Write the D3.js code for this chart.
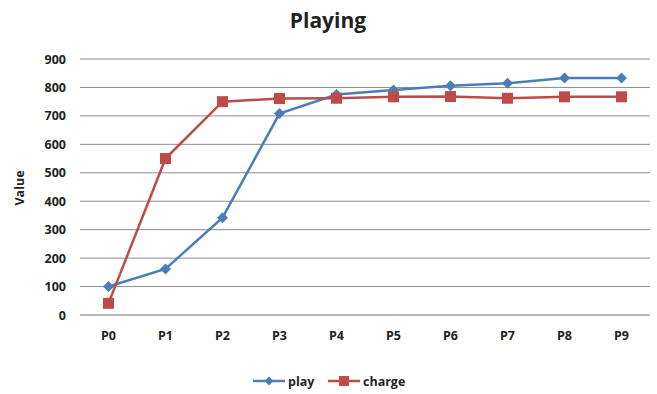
<!DOCTYPE html>
<html><head><meta charset="utf-8">
<script src="https://cdn.jsdelivr.net/npm/d3@7"></script>
<style>body{margin:0;background:#fff}svg{display:block}text{font-family:"Open Sans",sans-serif;font-weight:bold;fill:#222}</style>
</head><body>
<svg id="c" width="657" height="394"></svg>
<script>
const categories = ["P0","P1","P2","P3","P4","P5","P6","P7","P8","P9"];
const play = [100,162,342,708,775,791,806,815,833,833];
const charge = [41,550,750,761,762,767,768,762,767,767];
const yTicks = [0,100,200,300,400,500,600,700,800,900];
const seriesNames = ["play","charge"];
const colors = ["#4a7ebb","#be4b48"];

const svg = d3.select("#c");
const x = d3.scaleBand().domain(categories).range([80,650]);
const y = d3.scaleLinear().domain([0,900]).range([315,59]);

svg.append("g").selectAll("line").data(yTicks).join("line")
  .attr("x1",80).attr("x2",650).attr("y1",d=>y(d)).attr("y2",d=>y(d))
  .attr("stroke",d=>d===0?"#a0a0a0":"#8c8c8c").attr("stroke-width",d=>d===0?1.5:1);

const ya = svg.append("g").attr("transform","translate(80,0)")
  .call(d3.axisLeft(y).tickValues(yTicks).tickSize(0).tickPadding(14));
ya.select(".domain").remove();
ya.selectAll("text").style("font-size","12.5px").style("font-family","Open Sans").style("font-weight","bold").attr("fill","#222");

const xa = svg.append("g").attr("transform","translate(0,315)")
  .call(d3.axisBottom(x).tickSize(0).tickPadding(16));
xa.select(".domain").remove();
xa.selectAll("text").style("font-size","12.5px").style("font-family","Open Sans").style("font-weight","bold").attr("fill","#222");

svg.append("text").attr("x",328).attr("y",28).attr("text-anchor","middle").style("font-size","21px").text("Playing");
svg.append("text").attr("transform","translate(24,188) rotate(-90)").attr("text-anchor","middle").style("font-size","12.5px").text("Value");

const data = [play, charge];
const line = d3.line().x((d,i)=>x(categories[i])+x.bandwidth()/2).y(d=>y(d));
data.forEach((s,k)=>{
  svg.append("path").datum(s).attr("d",line).attr("fill","none").attr("stroke",colors[k]).attr("stroke-width",2.5);
});
svg.append("g").selectAll("path").data(play).join("path")
  .attr("transform",(d,i)=>`translate(${x(categories[i])+x.bandwidth()/2},${y(d)})`)
  .attr("d","M0,-5.5L5.5,0L0,5.5L-5.5,0Z").attr("fill",colors[0]);
svg.append("g").selectAll("rect").data(charge).join("rect")
  .attr("x",(d,i)=>x(categories[i])+x.bandwidth()/2-5.5).attr("y",d=>y(d)-5.5)
  .attr("width",11).attr("height",11).attr("fill",colors[1]);

const lg = [{name:seriesNames[0],x:253,c:colors[0],m:"d"},{name:seriesNames[1],x:328,c:colors[1],m:"s"}];
lg.forEach(l=>{
  svg.append("line").attr("x1",l.x).attr("x2",l.x+32).attr("y1",381).attr("y2",381).attr("stroke",l.c).attr("stroke-width",2.5);
  if(l.m==="d") svg.append("path").attr("transform",`translate(${l.x+16},381)`).attr("d","M0,-4.5L4.5,0L0,4.5L-4.5,0Z").attr("fill",l.c);
  else svg.append("rect").attr("x",l.x+11).attr("y",376).attr("width",10).attr("height",10).attr("fill",l.c);
  svg.append("text").attr("x",l.x+35).attr("y",385.5).style("font-size","12.5px").text(l.name);
});
</script>
</body></html>
